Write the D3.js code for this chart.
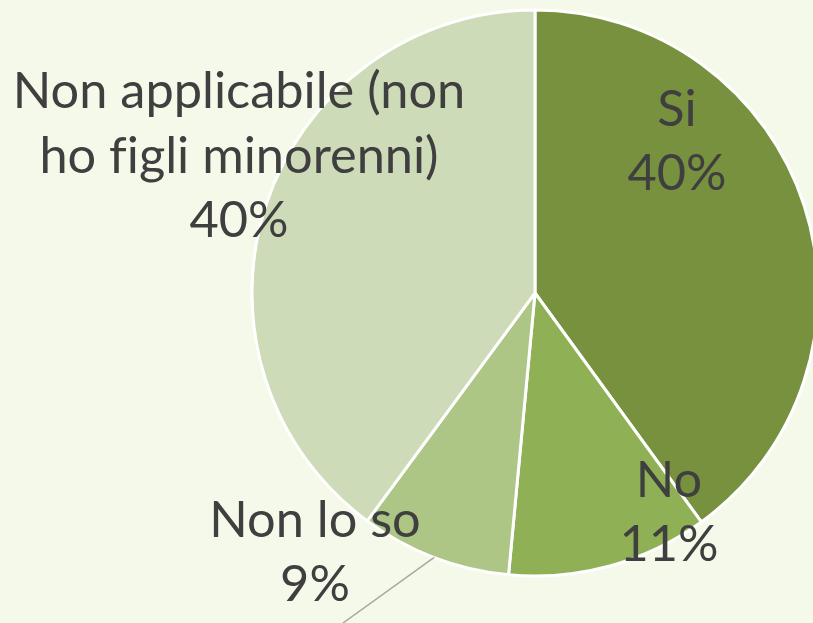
<!DOCTYPE html>
<html>
<head>
<meta charset="utf-8">
<script src="https://cdn.jsdelivr.net/npm/d3@7"></script>
<style>
  body { margin: 0; background: #f5f9e9; }
  .lbl { font-variant-ligatures: none; font-feature-settings: "liga" 0; }
</style>
</head>
<body>
<div id="container"></div>
<script>
let w = 813;
let h = 623;

// data
let categories = ["Si", "No", "Non lo so", "Non applicabile (non ho figli minorenni)"];
let shares = [0.400, 0.1149, 0.0861, 0.399];
let colors = ["#77913f", "#90b055", "#adc585", "#cedbb8"];

// label layout (line breaks + centre of text block)
let labelLines = [["Si"], ["No"], ["Non lo so"], ["Non applicabile (non", "ho figli minorenni)"]];
let labelPos = [[677, 126], [669, 497], [315, 537], [239, 108]];

let viz = d3.select("#container")
  .append("svg")
    .attr("width", w)
    .attr("height", h)
    .style("background-color", "#f5f9e9")
;

let cx = 535, cy = 293, radius = 283;

let pie = d3.pie().sort(null).value(function(d){ return d; });
let arc = d3.arc().innerRadius(0).outerRadius(radius);
let arcs = pie(shares);

let pieGroup = viz.append("g").attr("transform", "translate(" + cx + "," + cy + ")");

pieGroup.selectAll(".slice").data(arcs).enter()
  .append("path")
    .attr("class", "slice")
    .attr("d", arc)
    .attr("fill", function(d, i){ return colors[i]; })
    .attr("stroke", "#ffffff")
    .attr("stroke-width", 3)
    .attr("stroke-linejoin", "round")
;

// leader line for the small "Non lo so" slice
let small = arcs[2];
let mid = (small.startAngle + small.endAngle) / 2;
let lx = cx + radius * Math.sin(mid);
let ly = cy - radius * Math.cos(mid);
viz.append("line")
  .attr("x1", lx)
  .attr("y1", ly)
  .attr("x2", 343)
  .attr("y2", 623)
  .attr("stroke", "#a6a6a6")
  .attr("stroke-width", 1.5)
;

let pct = d3.format(".0%");

let labels = viz.selectAll(".lbl").data(categories).enter()
  .append("text")
    .attr("class", "lbl")
    .attr("text-anchor", "middle")
    .attr("font-family", "Lato, 'Open Sans', sans-serif")
    .attr("font-size", 50.5)
    .attr("fill", "#3f3f3f")
;

labels.each(function(d, i){
  let t = d3.select(this);
  let lines = labelLines[i].concat([pct(shares[i])]);
  lines.forEach(function(s, j){
    t.append("tspan")
      .attr("x", labelPos[i][0])
      .attr("y", labelPos[i][1] + j * (i == 3 ? 64.5 : 64))
      .text(s);
  });
});
</script>
</body>
</html>
